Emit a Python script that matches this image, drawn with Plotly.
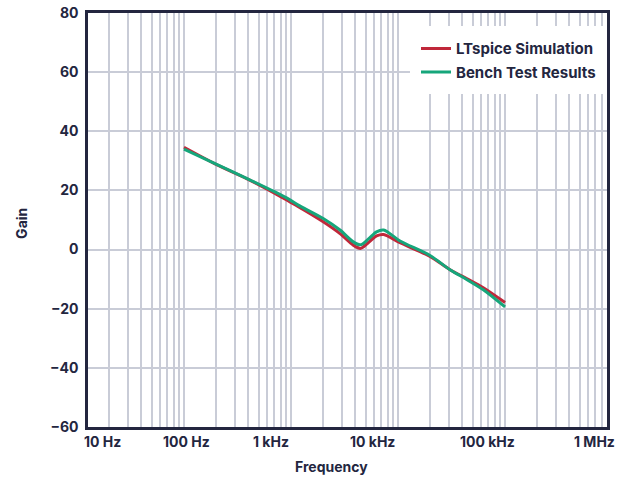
import plotly.graph_objects as go

# ---- data ----
freq_hz = [100, 195, 385, 708, 977, 1160, 2000, 2870, 3820, 4450, 5300, 6300, 7350,
           10450, 19900, 30600, 43800, 62700, 100000]
ltspice_gain = [34.6, 29.0, 24.0, 19.0, 16.1, 14.6, 9.4, 5.4, 1.5, 0.4, 2.4, 4.6, 5.1,
                2.3, -2.3, -6.8, -9.8, -12.9, -17.9]
bench_gain = [34.0, 29.1, 24.1, 19.5, 16.8, 15.1, 10.5, 6.6, 2.6, 1.6, 3.6, 6.0, 6.6,
              2.9, -2.0, -6.8, -10.1, -13.6, -19.4]

series_names = ["LTspice Simulation", "Bench Test Results"]
series_colors = ["#c0283a", "#16a67b"]

x_tick_labels = ["10 Hz", "100 Hz", "1 kHz", "10 kHz", "100 kHz", "1 MHz"]
x_label_log_pos = [1.234, 2.028, 2.813, 3.766, 4.836, 5.832]   # where the labels sit
decades = [10, 100, 1000, 10000, 100000, 1000000]
y_ticks = [-60, -40, -20, 0, 20, 40, 60, 80]

INK = "#23263f"
GRID = "#c9ccd7"
FONT = "Inter"
x_range = [1.103, 5.953]

fig = go.Figure()
for name, gain, color in zip(series_names, [ltspice_gain, bench_gain], series_colors):
    fig.add_trace(go.Scatter(x=freq_hz, y=gain, name=name, mode="lines", legendgroup=name,
                             line=dict(color=color, width=3, shape="spline", smoothing=0.8)))

label_font = dict(family=FONT, size=14, color=INK, weight="bold")
annotations = [
    dict(text=t, xref="x", yref="paper", x=p, y=-0.035, showarrow=False,
         xanchor="center", yanchor="middle", font=label_font)
    for t, p in zip(x_tick_labels, x_label_log_pos)
]
annotations += [
    dict(text="Frequency", xref="paper", yref="paper", x=0.470, y=-0.095,
         showarrow=False, xanchor="center", yanchor="middle", font=label_font),
    dict(text="Gain", xref="paper", yref="paper", x=-0.128, y=0.492,
         showarrow=False, xanchor="center", yanchor="middle", textangle=-90,
         font=label_font),
]

fig.update_layout(
    width=633, height=479,
    margin=dict(l=88, r=26, t=13, b=52),
    paper_bgcolor="white", plot_bgcolor="white",
    font=dict(family=FONT, color=INK, size=14, weight="bold"),
    showlegend=True,
    legend=dict(x=1.0, y=0.968, xanchor="right", yanchor="top",
                bgcolor="white", bordercolor="white", borderwidth=6,
                font=dict(family=FONT, size=15, color=INK, weight="bold"),
                itemwidth=30, tracegroupgap=1),
    xaxis=dict(type="log", range=x_range, tickmode="array", tickvals=decades,
               showticklabels=False, ticks="", automargin=False,
               showgrid=True, gridcolor=GRID, gridwidth=1.5,
               minor=dict(dtick="D1", showgrid=True, gridcolor=GRID, gridwidth=1.5, ticks=""),
               showline=True, linecolor=INK, linewidth=2.5, mirror=True, zeroline=False),
    yaxis=dict(range=[-60, 80], tickmode="array", tickvals=y_ticks, automargin=False,
               showgrid=True, gridcolor=GRID, gridwidth=1.5, zeroline=False,
               showline=True, linecolor=INK, linewidth=2.5, mirror=True, ticks="",
               ticklabelstandoff=4, tickfont=label_font),
    annotations=annotations,
)

fig.write_html("out.html")
